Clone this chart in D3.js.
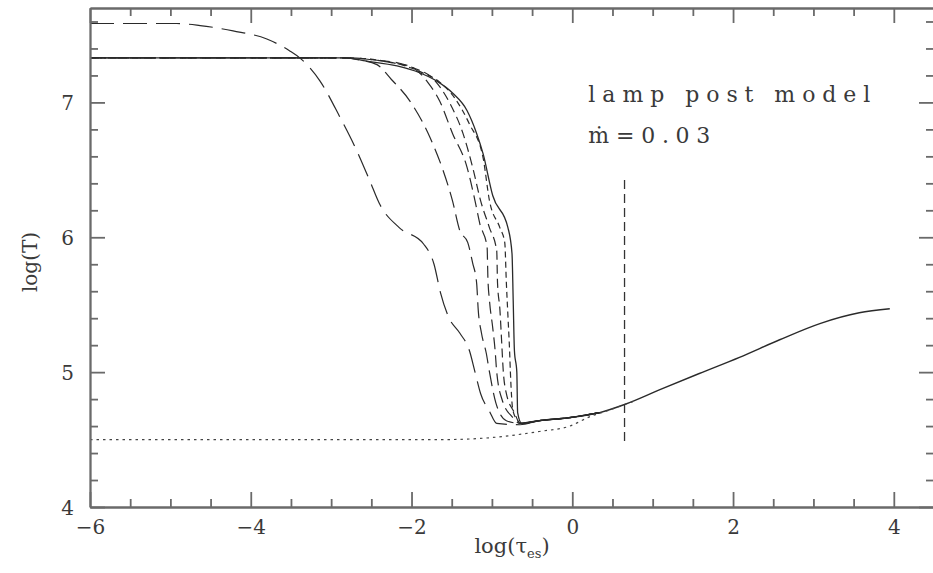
<!DOCTYPE html>
<html>
<head>
<meta charset="utf-8">
<script src="https://cdn.jsdelivr.net/npm/d3@7"></script>
<style>
  body { margin: 0; background: #fff; }
  svg text { font-family: "DejaVu Serif", "Liberation Serif", serif; fill: #3a3a3a; }
</style>
</head>
<body>
<div class="chart"></div>
<script>
// temperature profiles, log(T) against log(tau_es)
const curveA = [[-6,7.585],[-4.92,7.585],[-4.63,7.57],[-4.22,7.53],[-3.80,7.47],[-3.51,7.38],[-3.39,7.33],[-3.14,7.16],[-2.89,6.89],[-2.68,6.64],[-2.52,6.42],[-2.40,6.25],[-2.15,6.07],[-1.85,5.95],[-1.72,5.80],[-1.64,5.59],[-1.54,5.41],[-1.40,5.29],[-1.28,5.16],[-1.21,5.0],[-1.14,4.84],[-1.03,4.71],[-0.94,4.62],[-0.65,4.61]]
const curveB = [[-6,7.33],[-2.9,7.33],[-2.65,7.315],[-2.43,7.28],[-2.25,7.17],[-2.02,7.01],[-1.77,6.74],[-1.61,6.50],[-1.49,6.27],[-1.40,6.05],[-1.30,5.96],[-1.24,5.81],[-1.19,5.66],[-1.17,5.46],[-1.13,5.29],[-1.07,5.14],[-1.03,5.0],[-0.95,4.77],[-0.82,4.64],[-0.65,4.62]]
const curveC = [[-6,7.33],[-2.8,7.33],[-2.4,7.31],[-2.15,7.29],[-1.94,7.24],[-1.80,7.15],[-1.65,7.01],[-1.49,6.77],[-1.31,6.52],[-1.21,6.27],[-1.15,6.10],[-1.06,5.93],[-1.05,5.70],[-1.03,5.53],[-0.99,5.33],[-0.96,5.16],[-0.94,5.0],[-0.87,4.79],[-0.75,4.67],[-0.65,4.62]]
const curveD = [[-6,7.33],[-2.8,7.33],[-2.3,7.30],[-1.95,7.25],[-1.74,7.18],[-1.52,6.99],[-1.36,6.77],[-1.24,6.52],[-1.14,6.27],[-1.03,6.07],[-0.94,5.90],[-0.93,5.66],[-0.90,5.46],[-0.88,5.24],[-0.86,5.02],[-0.82,4.84],[-0.72,4.70],[-0.65,4.62]]
const curveE = [[-6,7.33],[-2.8,7.33],[-2.2,7.29],[-1.9,7.23],[-1.65,7.15],[-1.46,7.03],[-1.28,6.84],[-1.11,6.59],[-1.03,6.27],[-0.90,6.07],[-0.84,5.96],[-0.82,5.66],[-0.80,5.41],[-0.78,5.16],[-0.77,5.0],[-0.74,4.72],[-0.68,4.64],[-0.65,4.62]]
const curveF = [[-6,7.33],[-2.8,7.33],[-2.6,7.31],[-2.18,7.27],[-1.90,7.22],[-1.69,7.16],[-1.49,7.07],[-1.31,6.94],[-1.19,6.77],[-1.11,6.62],[-0.99,6.31],[-0.80,6.07],[-0.75,5.88],[-0.735,5.53],[-0.72,5.16],[-0.69,5.0],[-0.68,4.70],[-0.63,4.62]]
// common branch at large optical depth
const tail = [[-0.41,4.64],[-0.07,4.66],[0.34,4.70],[0.65,4.76],[1.09,4.87],[1.58,4.99],[2.08,5.11],[2.58,5.24],[3.08,5.36],[3.57,5.44],[3.95,5.47]]
const dotted = [[-6,4.5],[-1.6,4.5],[-1.0,4.515],[-0.41,4.56],[-0.03,4.60],[0.22,4.67],[0.47,4.72],[0.65,4.76],[0.8,4.79]]
const markerX = 0.65, markerY = [4.49, 6.44]

const xMajor = [-6,-4,-2,0,2,4]
const yMajor = [4,5,6,7]

const W = 933, H = 573
const x = d3.scaleLinear().domain([-6, 4.5]).range([90, 934])
const y = d3.scaleLinear().domain([4, 7.7]).range([507, 8])

const svg = d3.select('.chart').append('svg')
  .attr('width', W).attr('height', H)

const line = d3.line()
  .x(d => x(d[0])).y(d => y(d[1]))
  .curve(d3.curveMonotoneX)

const styles = [
  {data: curveA, dash: '24,9', w: 1.2},
  {data: curveB, dash: '16,7', w: 1.2},
  {data: curveC, dash: '12,6', w: 1.2},
  {data: curveD, dash: '9,5', w: 1.2},
  {data: curveE, dash: '6,4', w: 1.2},
  {data: curveF, dash: null, w: 1.3}
]

styles.forEach(s => {
  svg.append('path')
    .attr('d', line(s.data.concat(tail.slice(0, 3))))
    .attr('fill', 'none')
    .attr('stroke', '#2a2a2a')
    .attr('stroke-width', s.w)
    .attr('stroke-dasharray', s.dash)
})

svg.append('path')
  .attr('d', line([curveF[curveF.length-1]].concat(tail)))
  .attr('fill', 'none')
  .attr('stroke', '#2a2a2a')
  .attr('stroke-width', 1.4)

svg.append('path')
  .attr('d', line(dotted))
  .attr('fill', 'none')
  .attr('stroke', '#444')
  .attr('stroke-width', 1.2)
  .attr('stroke-dasharray', '2.5,4')

svg.append('line')
  .attr('x1', x(markerX)).attr('x2', x(markerX))
  .attr('y1', y(markerY[0])).attr('y2', y(markerY[1]))
  .attr('stroke', '#333')
  .attr('stroke-width', 1.3)
  .attr('stroke-dasharray', '9,5')

// frame with inward ticks on all four sides
const xMinor = d3.range(-6, 4.51, 0.5).filter(v => !xMajor.includes(v))
const yMinor = d3.range(4, 7.71, 0.2).map(v => +v.toFixed(1)).filter(v => !yMajor.includes(v))

function frame(axisFn, scale, pos, major, minor, labels) {
  const g = svg.append('g').attr('class', 'axis').attr('transform', pos)
  g.call(axisFn(scale).tickValues(minor).tickSize(-8).tickSizeOuter(0).tickFormat(''))
  const g2 = svg.append('g').attr('class', 'axis').attr('transform', pos)
  g2.call(axisFn(scale).tickValues(major).tickSize(-15).tickSizeOuter(0)
    .tickFormat(labels ? (d => d < 0 ? '\u2212' + Math.abs(d) : d) : ''))
  return g2
}

const bottom = frame(d3.axisBottom, x, `translate(0,${y(4)})`, xMajor, xMinor, true)
frame(d3.axisTop, x, `translate(0,${y(7.7)})`, xMajor, xMinor, false)
const left = frame(d3.axisLeft, y, `translate(${x(-6)},0)`, yMajor, yMinor, true)
frame(d3.axisRight, y, `translate(${x(4.5)},0)`, yMajor, yMinor, false)

svg.selectAll('.axis path, .axis line')
  .attr('stroke', '#6a6a6a')
  .attr('stroke-width', 1.8)

bottom.selectAll('text')
  .attr('y', 13).attr('dy', '0.71em')
  .attr('font-size', 20)
  .attr('font-family', 'DejaVu Serif')
  .attr('fill', '#444')
left.selectAll('text')
  .attr('x', -16).attr('dy', '0.36em')
  .attr('font-size', 20)
  .attr('font-family', 'DejaVu Serif')
  .attr('fill', '#444')

// axis titles
svg.append('text')
  .attr('x', 512).attr('y', 553)
  .attr('text-anchor', 'middle')
  .attr('font-size', 21)
  .html('log(\u03c4<tspan font-size="13" dy="5">es</tspan><tspan dy="-5">)</tspan>')

svg.append('text')
  .attr('transform', 'translate(37,262) rotate(-90)')
  .attr('text-anchor', 'middle')
  .attr('font-size', 20)
  .text('log(T)')

// annotation
svg.append('text')
  .attr('x', x(0.2)).attr('y', y(7.0))
  .attr('font-size', 22)
  .attr('textLength', 282).attr('lengthAdjust', 'spacing')
  .text('lamp post model')

svg.append('text')
  .attr('x', x(0.2)).attr('y', y(6.7))
  .attr('font-size', 22)
  .attr('textLength', 122).attr('lengthAdjust', 'spacing')
  .text('\u1e41=0.03')
</script>
</body>
</html>
